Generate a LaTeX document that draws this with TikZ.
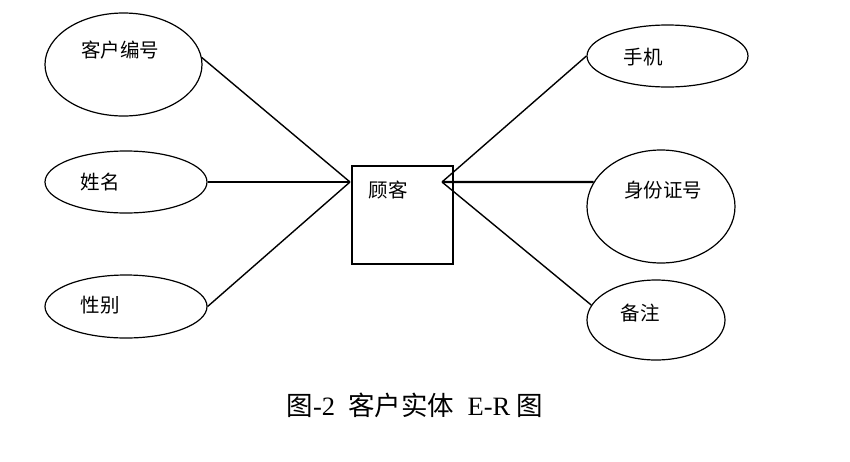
\documentclass[tikz,border=0pt]{standalone}
\usepackage{fontspec}
\setmainfont{Liberation Serif}
\newfontfamily\cjk{Noto Sans CJK SC}
\usepackage{tikz}
\usetikzlibrary{shapes.geometric}

\begin{document}
\begin{tikzpicture}[x=1pt, y=-1pt,
        attr/.style={draw, ellipse, line width=1.2pt, inner sep=0pt},
        lbl/.style={font=\cjk\fontsize{19.5}{22}\selectfont, inner sep=0pt},
        link/.style={line width=1.4pt},
        hlink/.style={line width=2.4pt}]
        \useasboundingbox (0,0) rectangle (850,461);

        % entity
        \node[draw, rectangle, line width=1.2pt, minimum width=101pt, minimum height=98pt, inner sep=0pt] (guke) at (402.5,215) {};
        \node[lbl] (gukeText) at (388,190) {顾客};
        \coordinate (jl) at (350,182);
        \coordinate (jr) at (442,182);

        % left attributes
        \node[attr, minimum width=157pt, minimum height=103pt] (khbh) at (123.5,64.5) {};
        \node[lbl] at (120,50) {客户编号};
        \node[attr, minimum width=162pt, minimum height=62pt] (xm) at (126,182) {};
        \node[lbl] at (100,182) {姓名};
        \node[attr, minimum width=162pt, minimum height=63pt] (xb) at (126,306.5) {};
        \node[lbl] at (100,305) {性别};

        % right attributes
        \node[attr, minimum width=161pt, minimum height=62pt] (sj) at (667.5,56) {};
        \node[lbl] at (643,57) {手机};
        \node[attr, minimum width=148pt, minimum height=113pt] (sfzh) at (661,206.5) {};
        \node[lbl] at (663,190) {身份证号};
        \node[attr, minimum width=138pt, minimum height=80pt] (bz) at (656,320) {};
        \node[lbl] at (640,313) {备注};

        \draw[link] (khbh.5) -- (jl);
        \draw[hlink] (xm.east) -- (jl);
        \draw[link] (xb.east) -- (jl);

        \draw[link] (jr) -- (sj.west);
        \draw[hlink] (jr) -- (sfzh.160);
        \draw[link] (jr) -- (bz.167);

        \node[font=\fontsize{26.5}{28}\selectfont] (caption) at (415,405) {{\cjk 图}-2\ \ {\cjk 客户实体}\ \ E-R {\cjk 图}};
\end{tikzpicture}
\end{document}
